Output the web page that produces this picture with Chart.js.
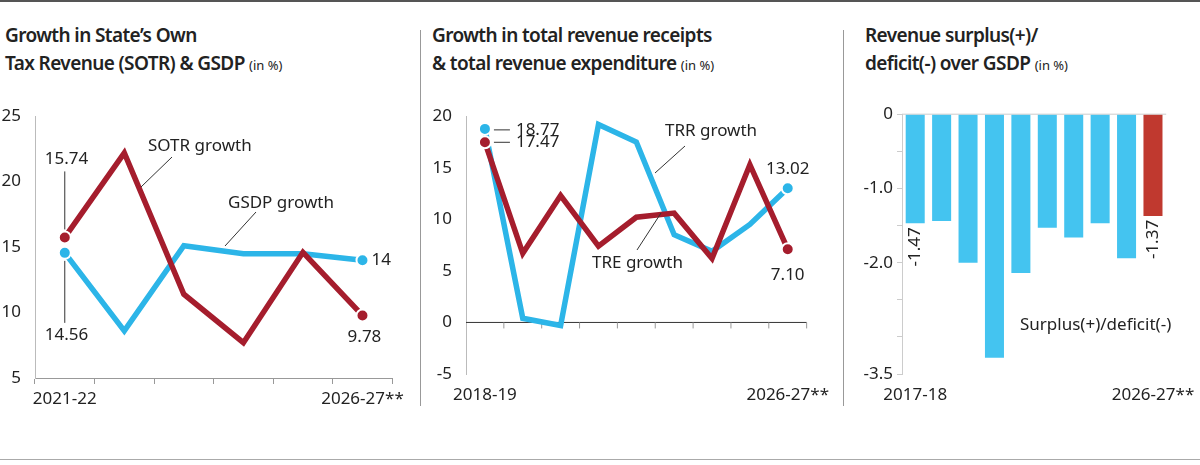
<!DOCTYPE html>
<html><head><meta charset="utf-8">
<script src="https://cdn.jsdelivr.net/npm/chart.js@4"></script>
<style>
body{margin:0;width:1200px;height:465px;background:#fff;position:relative;overflow:hidden;font-family:"Noto Sans",sans-serif;color:#222}
.t{position:absolute;top:21px;font-size:19px;font-weight:600;line-height:28px;letter-spacing:-0.6px}
.t small{font-size:13px;font-weight:400;letter-spacing:0}
.c{position:absolute;top:100px;height:310px}
.v{position:absolute;top:30px;height:376px;width:1px;background:#999}
</style></head><body>
<div style="position:absolute;left:0;top:0;width:1200px;height:2px;background:#555"></div>
<div style="position:absolute;left:0;top:459px;width:1200px;height:1px;background:#aaa"></div>
<div class="v" style="left:420px"></div><div class="v" style="left:843px"></div>
<div class="t" style="left:5px">Growth in State’s Own<br>Tax Revenue (SOTR) &amp; GSDP <small>(in %)</small></div>
<div class="t" style="left:432px">Growth in total revenue receipts<br>&amp; total revenue expenditure <small>(in %)</small></div>
<div class="t" style="left:865px">Revenue surplus(+)/<br>deficit(-) over GSDP <small>(in %)</small></div>
<div class="c" style="left:0;width:410px"><canvas id="c1"></canvas></div>
<div class="c" style="left:425px;width:410px"><canvas id="c2"></canvas></div>
<div class="c" style="left:845px;width:355px"><canvas id="c3"></canvas></div>
<script>
const years1 = ["2021-22","2022-23","2023-24","2024-25","2025-26","2026-27**"];
const sotr = [15.74,22.2,11.4,7.7,14.6,9.78];
const gsdp = [14.56,8.6,15.1,14.5,14.5,14];
const years2 = ["2018-19","2019-20","2020-21","2021-22","2022-23","2023-24","2024-25","2025-26","2026-27**"];
const trr = [18.77,0.4,-0.3,19.2,17.5,8.5,6.9,9.5,13.02];
const tre = [17.47,6.7,12.3,7.4,10.2,10.6,6.2,15.3,7.10];
const years3 = ["2017-18","2018-19","2019-20","2020-21","2021-22","2022-23","2023-24","2024-25","2025-26","2026-27**"];
const deficit = [-1.47,-1.44,-2.0,-3.28,-2.14,-1.53,-1.66,-1.47,-1.94,-1.37];
const y1Ticks = [5,10,15,20,25], y2Ticks=[-5,0,5,10,15,20], y3Ticks=[0,-1,-2,-3.5];

const RED='#a51d2d', BLUE='#2cb5e8', FONT='"Noto Sans", sans-serif', TXT='#222';
Chart.defaults.animation=false;
Chart.defaults.font.family=FONT;
Chart.defaults.color=TXT;
Chart.defaults.plugins.legend.display=false;
Chart.defaults.plugins.tooltip.enabled=false;

function lineDs(d,c){const n=d.length;return{data:d,borderColor:c,backgroundColor:c,borderWidth:5.5,
  pointRadius:d.map((v,i)=>i===0||i===n-1?6:0),pointBorderColor:'#fff',pointBorderWidth:2,tension:0,borderJoinStyle:'miter'};}
function xAxis(labels,grid){return{type:'category',offset:true,
  ticks:{autoSkip:false,maxRotation:0,font:{size:17},color:TXT,padding:5,callback:(v,i)=>(i===0||i===labels.length-1)?labels[i]:''},
  grid:{display:grid,offset:true,drawOnChartArea:false,tickLength:6,color:'#999'},
  border:{display:grid,color:'#999'},afterFit:s=>{s.height=grid?32:36}};}
function yAxis(min,max,vals,w,fmt){return{min,max,afterBuildTicks:s=>{s.ticks=vals.map(v=>({value:v}))},
  ticks:{font:{size:17},color:TXT,padding:6,callback:fmt||(v=>v)},
  grid:{display:false},border:{display:true,color:'#bbb'},afterFit:s=>{s.width=w}};}

function txt(ctx,s,x,y,align,size){ctx.save();ctx.font=(size||17)+'px '+FONT;ctx.fillStyle=TXT;ctx.textAlign=align||'left';ctx.textBaseline='middle';ctx.fillText(s,x,y);ctx.restore();}
function ln(ctx,x1,y1,x2,y2){ctx.save();ctx.strokeStyle='#333';ctx.lineWidth=1;ctx.beginPath();ctx.moveTo(x1,y1);ctx.lineTo(x2,y2);ctx.stroke();ctx.restore();}

new Chart(document.getElementById('c1'),{type:'line',
 data:{labels:years1,datasets:[lineDs(sotr,RED),lineDs(gsdp,BLUE)]},
 options:{responsive:true,maintainAspectRatio:false,layout:{padding:{top:16,right:15}},
  scales:{x:xAxis(years1,true),y:yAxis(5,25,y1Ticks,35)}},
 plugins:[{id:'a1',afterDatasetsDraw(ch){const c=ch.ctx,x=ch.scales.x,y=ch.scales.y;
  const x0=x.getPixelForValue(0),x5=x.getPixelForValue(5);
  txt(c,'15.74',x0-20,y.getPixelForValue(15.74)-78);ln(c,x0,y.getPixelForValue(15.74)-8,x0,y.getPixelForValue(15.74)-66);
  txt(c,'14.56',x0-20,y.getPixelForValue(14.56)+82);ln(c,x0,y.getPixelForValue(14.56)+8,x0,y.getPixelForValue(14.56)+70);
  txt(c,'14',x5+9,y.getPixelForValue(14));
  txt(c,'9.78',x5+2,y.getPixelForValue(9.78)+22,'center');
  txt(c,'SOTR growth',148,46);ln(c,141,87,172,57);
  txt(c,'GSDP growth',228,103);ln(c,225,146,256,112);
 }}]});

new Chart(document.getElementById('c2'),{type:'line',
 data:{labels:years2,datasets:[lineDs(tre,RED),lineDs(trr,BLUE)]},
 options:{responsive:true,maintainAspectRatio:false,layout:{padding:{top:14,right:18}},
  scales:{x:xAxis(years2,false),y:yAxis(-5,20,y2Ticks,41)}},
 plugins:[{id:'a2',beforeDatasetsDraw(ch){const c=ch.ctx,x=ch.scales.x,y=ch.scales.y,z=y.getPixelForValue(0);
  ln(c,x.left,z,x.right,z);
  c.save();c.strokeStyle='#999';const n=years2.length;for(let i=1;i<=n;i++){const px=i<n?(x.getPixelForValue(i-1)+x.getPixelForValue(i))/2:x.right;c.beginPath();c.moveTo(px,z);c.lineTo(px,z+6);c.stroke();}c.restore();
 },afterDatasetsDraw(ch){const c=ch.ctx,x=ch.scales.x,y=ch.scales.y;
  const x0=x.getPixelForValue(0),x8=x.getPixelForValue(8);
  txt(c,'18.77',x0+31,y.getPixelForValue(18.77)+1);ln(c,x0+9,y.getPixelForValue(18.77)+1,x0+25,y.getPixelForValue(18.77)+1);
  txt(c,'17.47',x0+31,y.getPixelForValue(17.47));ln(c,x0+9,y.getPixelForValue(17.47),x0+25,y.getPixelForValue(17.47));
  txt(c,'13.02',x8,y.getPixelForValue(13.02)-19,'center');
  txt(c,'7.10',x8,y.getPixelForValue(7.10)+26,'center');
  txt(c,'TRR growth',240,31);ln(c,230,73,260,46);
  txt(c,'TRE growth',167,163);ln(c,212,150,236,113);
 }}]});

new Chart(document.getElementById('c3'),{type:'bar',
 data:{labels:years3,datasets:[{data:deficit,backgroundColor:deficit.map((v,i)=>i===deficit.length-1?'#c0392f':'#44c4f0'),barPercentage:0.72,categoryPercentage:1}]},
 options:{responsive:true,maintainAspectRatio:false,layout:{padding:{top:14,right:15}},
  scales:{x:xAxis(years3,false),
   y:{min:-3.5,max:0,afterBuildTicks:s=>{s.ticks=[0,-0.5,-1,-1.5,-2,-2.5,-3,-3.5].map(v=>({value:v}))},
    ticks:{font:{size:17},color:TXT,padding:4,callback:v=>y3Ticks.includes(v)?(v===0?'0':v.toFixed(1)):''},
    grid:{display:true,drawOnChartArea:false,tickLength:5,color:'#ccc'},border:{display:true,color:'#ccc'},afterFit:s=>{s.width=57}}}},
 plugins:[{id:'a3',beforeDatasetsDraw(ch){const c=ch.ctx,x=ch.scales.x,y=ch.scales.y,z=y.getPixelForValue(0);
   c.save();c.strokeStyle='#ccc';c.beginPath();c.moveTo(x.left,z);c.lineTo(x.right,z);c.stroke();c.restore();},
  afterDatasetsDraw(ch){const c=ch.ctx,m=ch.getDatasetMeta(0);
  [0,deficit.length-1].forEach(i=>{const b=m.data[i];c.save();c.translate(b.x,b.y+4);c.rotate(-Math.PI/2);
   c.font='17px '+FONT;c.fillStyle=TXT;c.textAlign='right';c.textBaseline='middle';c.fillText(deficit[i].toFixed(2),0,0);c.restore();});
  txt(c,'Surplus(+)/deficit(-)',175,225);
 }}]});
</script></body></html>
